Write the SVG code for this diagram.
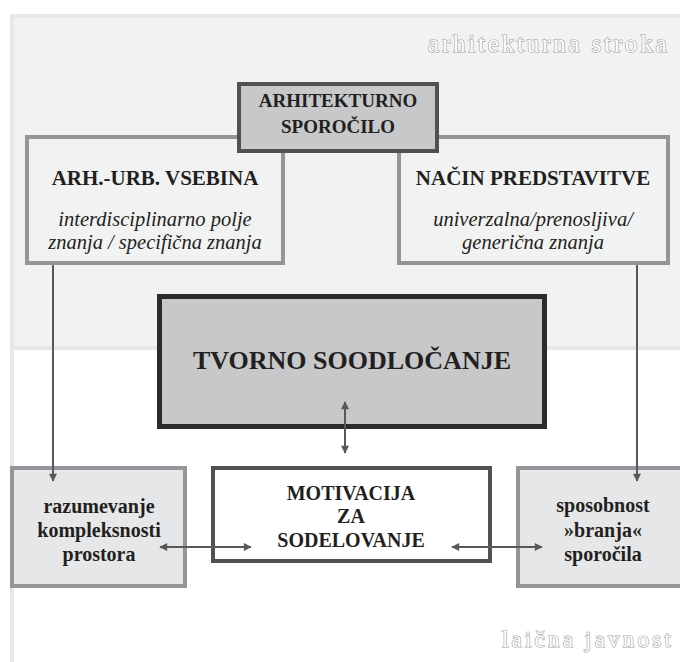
<svg xmlns="http://www.w3.org/2000/svg" width="680" height="662" viewBox="0 0 680 662">
  <defs>
    <style>
      .t{font-family:"Liberation Serif","Times New Roman",serif;fill:#231f20;text-anchor:middle}
      .b{font-weight:bold}
      .i{font-style:italic}
      .conn{stroke:#58595b;stroke-width:2;fill:none}
      .zone{font-family:"Liberation Serif","Times New Roman",serif;fill:#ffffff;stroke:#9d9fa2;stroke-width:1.2;paint-order:stroke}
    </style>
    <marker id="ah" viewBox="0 0 10 10" refX="9" refY="5" markerWidth="9" markerHeight="8" markerUnits="userSpaceOnUse" orient="auto-start-reverse">
      <path d="M0,0 L10,5 L0,10 z" fill="#58595b"/>
    </marker>
  </defs>

  <g id="background">
    <rect x="0" y="0" width="680" height="662" fill="#ffffff"/>
    <rect x="12" y="16" width="680" height="332" fill="#f1f2f2" stroke="#e6e7e8" stroke-width="4"/>
    <rect x="10" y="350" width="4" height="312" fill="#e6e7e8"/>
    <text class="zone" x="428" y="52" font-size="25" letter-spacing="2.8">arhitekturna stroka</text>
    <text class="zone" x="502" y="647" font-size="23" letter-spacing="3.2">laična javnost</text>
  </g>

  <g id="vsebina">
    <rect x="27" y="137" width="256" height="126" fill="#f1f2f2" stroke="#939598" stroke-width="4"/>
    <text class="t b" x="155" y="185" font-size="21">ARH.-URB. VSEBINA</text>
    <text class="t i" x="155" y="226" font-size="20.5">interdisciplinarno polje</text>
    <text class="t i" x="155" y="249" font-size="20.5">znanja / specifična znanja</text>
  </g>

  <g id="predstavitev">
    <rect x="399" y="137" width="269" height="126" fill="#f1f2f2" stroke="#939598" stroke-width="4"/>
    <text class="t b" x="533" y="185" font-size="21">NAČIN PREDSTAVITVE</text>
    <text class="t i" x="533" y="226" font-size="20.5">univerzalna/prenosljiva/</text>
    <text class="t i" x="533" y="249" font-size="20.5">generična znanja</text>
  </g>

  <g id="sporocilo">
    <rect x="239" y="84" width="198" height="67" fill="#c7c8ca" stroke="#505153" stroke-width="4"/>
    <text class="t b" x="338" y="107" font-size="19">ARHITEKTURNO</text>
    <text class="t b" x="338" y="133" font-size="19">SPOROČILO</text>
  </g>

  <g id="soodlocanje">
    <rect x="159.5" y="296.5" width="385" height="130" fill="#c7c8ca" stroke="#2b2b2d" stroke-width="5"/>
    <text class="t b" x="352" y="369" font-size="26">TVORNO SOODLOČANJE</text>
  </g>

  <g id="motivacija">
    <rect x="213" y="468" width="277" height="93" fill="#ffffff" stroke="#505153" stroke-width="4"/>
    <text class="t b" x="351" y="500" font-size="20">MOTIVACIJA</text>
    <text class="t b" x="351" y="523" font-size="20">ZA</text>
    <text class="t b" x="351" y="547" font-size="20">SODELOVANJE</text>
  </g>

  <g id="razumevanje">
    <rect x="12" y="468" width="173" height="118" fill="#e6e7e8" stroke="#939598" stroke-width="4"/>
    <text class="t b" x="99" y="513" font-size="20">razumevanje</text>
    <text class="t b" x="99" y="537" font-size="20">kompleksnosti</text>
    <text class="t b" x="99" y="561" font-size="20">prostora</text>
  </g>

  <g id="branje">
    <rect x="518" y="468" width="172" height="118" fill="#e6e7e8" stroke="#939598" stroke-width="4"/>
    <text class="t b" x="603" y="512" font-size="20">sposobnost</text>
    <text class="t b" x="603" y="537" font-size="20">»branja«</text>
    <text class="t b" x="603" y="561" font-size="20">sporočila</text>
  </g>

  <g id="connectors">
    <path class="conn" d="M53 265 V481" marker-end="url(#ah)"/>
    <path class="conn" d="M637 265 V481" marker-end="url(#ah)"/>
    <path class="conn" d="M345 402 V453" marker-start="url(#ah)" marker-end="url(#ah)"/>
    <path class="conn" d="M160 547 H251" marker-start="url(#ah)" marker-end="url(#ah)"/>
    <path class="conn" d="M452 547 H542" marker-start="url(#ah)" marker-end="url(#ah)"/>
  </g>
</svg>
